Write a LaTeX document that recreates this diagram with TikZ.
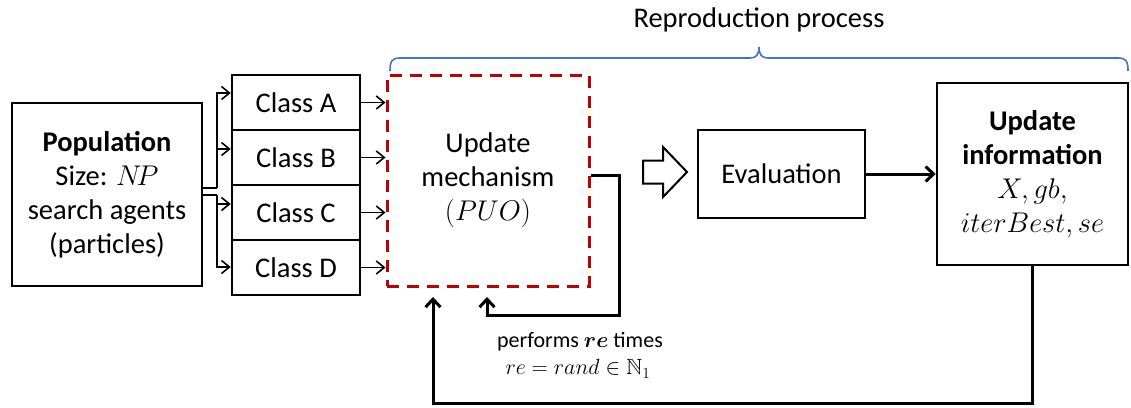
\RequirePackage{fix-cm}
\documentclass[tikz,border=0pt]{standalone}
\usepackage{amssymb,bm}
\usepackage{fontspec}
\setmainfont{Carlito}
\usetikzlibrary{arrows.meta}
\definecolor{dred}{RGB}{192,0,0}
\definecolor{bblue}{RGB}{68,114,196}
\begin{document}
\begin{tikzpicture}[x=1pt,y=-1pt,
  big/.style={font=\fontsize{28.5}{34}\selectfont},
  small/.style={font=\fontsize{22}{26}\selectfont, inner sep=0pt},
  box/.style={draw, line width=2.5pt, inner sep=0pt, align=center, big},
  cls/.style={box, minimum width=128pt, minimum height=55pt},
  thinarr/.style={-{Straight Barb[length=8pt,width=13pt]}, line width=1.6pt},
  thickarr/.style={-{Straight Barb[length=8pt,width=15pt]}, line width=3pt, line join=miter}]
\useasboundingbox (0,0) rectangle (1131,407);

\node[box, minimum width=190pt, minimum height=183pt] (pop) at (107,194.5)
  {\textbf{Population}\\Size: $N\!P$\\search agents\\(particles)};
\node[cls] (ca) at (296,102.5) {Class A};
\node[cls] (cb) at (296,157.5) {Class B};
\node[cls] (cc) at (296,212.5) {Class C};
\node[cls] (cd) at (296,267.5) {Class D};

\node[draw=dred, line width=3pt, dash pattern=on 12pt off 8pt, minimum width=202pt,
  minimum height=211pt, align=center, big, inner sep=0pt] (mech) at (488,180.5)
  {Update\\mechanism\\$(PUO)$};
\node[box, minimum width=167pt, minimum height=88pt] (eval) at (781.5,174) {Evaluation};
\node[box, minimum width=191pt, minimum height=182pt] (info) at (1032.5,174)
  {\textbf{Update}\\\textbf{information}\\$X, gb,$\\$iterBest, se$};

\node[big] (title) at (759,20) {Reproduction process};
\node[small] (lab1) at (580,342) {performs $\bm{re}$ times};
\node[small] (lab2) at (578,369) {$re = rand \in \mathbb{N}_1$};

% fork
\coordinate (busT) at (217,188);
\coordinate (busB) at (217,195);
\draw[line width=1.6pt] (pop.east |- busT) -- (busT);
\draw[line width=1.6pt] (pop.east |- busB) -- (busB);
\draw[thinarr] (busT) |- (ca.west |- 0,93);
\draw[thinarr] (busT) |- (cb.west |- 0,149);
\draw[thinarr] (busB) |- (cc.west |- 0,204);
\draw[thinarr] (busB) |- (cd.west |- 0,267);

% classes to mechanism
\draw[thinarr] (ca.east) -- (mech.west |- ca.east);
\draw[thinarr] (cb.east) -- (mech.west |- cb.east);
\draw[thinarr] (cc.east) -- (mech.west |- cc.east);
\draw[thinarr] (cd.east) -- (mech.west |- cd.east);

% block arrow
\draw[line width=2pt, line join=miter] (643,160.5) -- (663,160.5) -- (663,147) -- (687,172)
  -- (663,197) -- (663,183.5) -- (643,183.5) -- cycle;

% evaluation to info
\draw[thickarr] (eval.east) -- (info.west |- eval.east);

% inner loop
\coordinate (in1) at (487,297);
\coordinate (c1) at (619,315);
\draw[thickarr] (mech.east |- 0,175) -| (c1) -| (in1);

% outer loop
\coordinate (in2) at (433,297);
\draw[thickarr] (info.south) |- (in2 |- 0,403) -- (in2);

% brace
\draw[bblue, line width=1.6pt] (390,71) .. controls (390,61) and (392,58) .. (400,58)
  -- (750,58) .. controls (756,58) and (759,55) .. (759,47)
  .. controls (759,55) and (762,58) .. (768,58) -- (1118,58)
  .. controls (1126,58) and (1128,61) .. (1128,71);
\end{tikzpicture}
\end{document}
